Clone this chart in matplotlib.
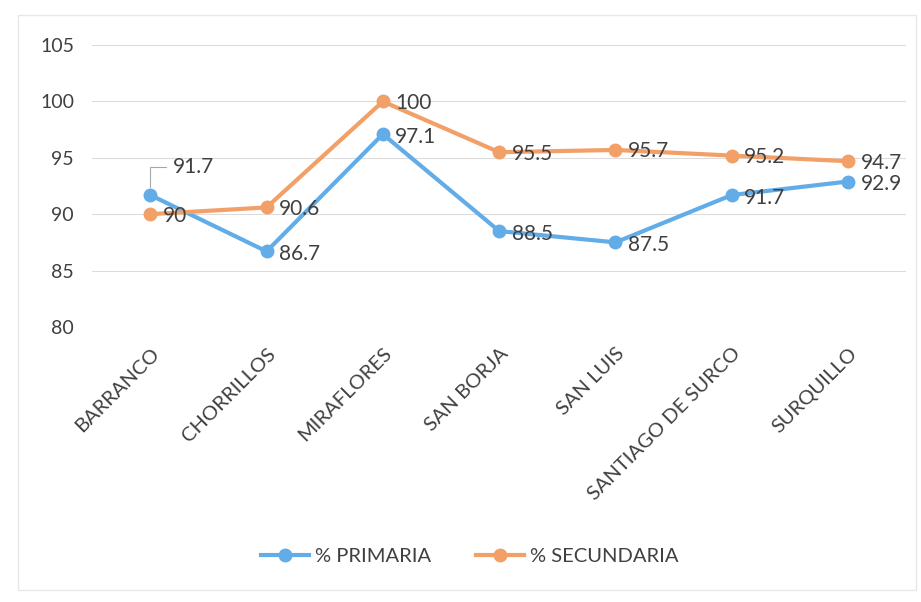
import matplotlib
matplotlib.use('Agg')
import matplotlib.pyplot as plt
from matplotlib.patches import Rectangle

plt.rcParams['font.family'] = ['Lato', 'DejaVu Sans']

# datos
distritos  = ['BARRANCO', 'CHORRILLOS', 'MIRAFLORES', 'SAN BORJA',
              'SAN LUIS', 'SANTIAGO DE SURCO', 'SURQUILLO']
primaria   = [91.7, 86.7, 97.1, 88.5, 87.5, 91.7, 92.9]
secundaria = [90, 90.6, 100, 95.5, 95.7, 95.2, 94.7]
yticks     = [80, 85, 90, 95, 100, 105]

azul    = '#62ace8'
naranja = '#f29f68'
texto   = '#404040'

fig = plt.figure(figsize=(9.21, 6.02), dpi=100)
ax = fig.add_axes([0.1, 0.457, 0.884, 0.468])

# marco tenue del grafico
fig.patches.append(Rectangle((0.02, 0.02), 0.975, 0.955, transform=fig.transFigure,
                             fill=False, ec='#e8e8e8', lw=1.0))

x = list(range(len(distritos)))
ax.plot(x, primaria, color=azul, lw=3, marker='o', ms=9, label='% PRIMARIA', zorder=3)
ax.plot(x, secundaria, color=naranja, lw=3, marker='o', ms=9, label='% SECUNDARIA', zorder=3)

# etiquetas de datos
fs = 15
for i, v in enumerate(primaria):
    if i == 0:
        ax.annotate('%g' % v, (i, v), xytext=(16, 20), textcoords='offset points',
                    ha='left', va='center', fontsize=fs, color=texto,
                    arrowprops=dict(arrowstyle='-', color='#a6a6a6', lw=0.8,
                                    connectionstyle='angle,angleA=0,angleB=90',
                                    shrinkA=3, shrinkB=6))
    else:
        ax.annotate('%g' % v, (i, v), xytext=(9, -2), textcoords='offset points',
                    ha='left', va='center', fontsize=fs, color=texto, zorder=4)
for i, v in enumerate(secundaria):
    ax.annotate('%g' % v, (i, v), xytext=(9, -1), textcoords='offset points',
                ha='left', va='center', fontsize=fs, color=texto, zorder=4)

ax.set_xlim(-0.5, len(distritos) - 0.5)
ax.set_ylim(80, 105)
ax.set_yticks(yticks)
ax.set_xticks(x)
ax.set_xticklabels(distritos, rotation=45, ha='right', va='top',
                   rotation_mode='anchor', fontsize=14.5, color=texto)
ax.tick_params(axis='y', labelsize=14, labelcolor=texto, length=0, pad=13)
ax.tick_params(axis='x', length=0, pad=13)
ax.grid(axis='y', color='#dcdcdc', lw=0.8)
ax.set_axisbelow(True)
for s in ax.spines.values():
    s.set_visible(False)

fig.legend(loc='center', bbox_to_anchor=(0.51, 0.075), ncol=2, frameon=False,
           fontsize=14.5, handlelength=2.4, columnspacing=2.2, handletextpad=0.3,
           labelcolor=texto)

fig.savefig('out.png', dpi=100)
